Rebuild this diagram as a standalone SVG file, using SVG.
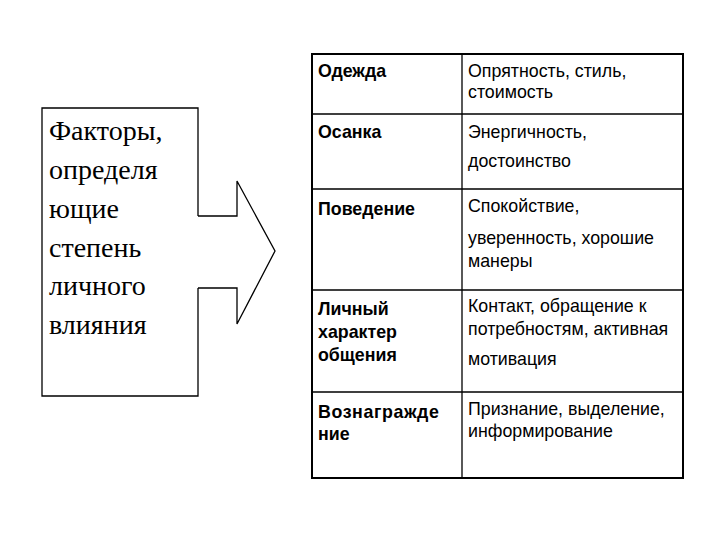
<svg xmlns="http://www.w3.org/2000/svg" width="720" height="540" viewBox="0 0 720 540">
<style>
.ln{fill:none;stroke:#000;stroke-width:1.3}
.tb{fill:none;stroke:#000;stroke-width:2}
.s{font-family:"Liberation Serif","Times New Roman",serif;font-size:28px;fill:#000}
.b{font-family:"Liberation Sans",Arial,sans-serif;font-size:17.8px;font-weight:bold;fill:#000}
.r{font-family:"Liberation Sans",Arial,sans-serif;font-size:17.8px;fill:#000}
</style>
<rect width="720" height="540" fill="#fff"/>
<g id="factors">
<path class="ln" d="M198,216 V108 H42 V396 H198 V288"/>
<text class="s" x="49" y="140">Факторы,</text>
<text class="s" x="49" y="179">определя</text>
<text class="s" x="49" y="218">ющие</text>
<text class="s" x="49" y="257">степень</text>
<text class="s" x="49" y="295">личного</text>
<text class="s" x="49" y="334">влияния</text>
</g>
<g id="connectors">
<path class="ln" d="M198,216 H237 V181 L275,251 L237,324 V288 H198"/>
</g>
<g id="table">
<rect class="tb" x="312" y="54" width="371" height="424"/>
<path class="ln" d="M462,54 V478 M312,114 H683 M312,189 H683 M312,290 H683 M312,392 H683"/>
<text class="b" x="318" y="77">Одежда</text>
<text class="r" x="468" y="77">Опрятность, стиль,</text>
<text class="r" x="468" y="98">стоимость</text>
<text class="b" x="318" y="138">Осанка</text>
<text class="r" x="468" y="138">Энергичность,</text>
<text class="r" x="468" y="167">достоинство</text>
<text class="b" x="318" y="215">Поведение</text>
<text class="r" x="468" y="212">Спокойствие,</text>
<text class="r" x="468" y="244">уверенность, хорошие</text>
<text class="r" x="468" y="267">манеры</text>
<text class="b" x="318" y="315">Личный</text>
<text class="b" x="318" y="338">характер</text>
<text class="b" x="318" y="361">общения</text>
<text class="r" x="468" y="312">Контакт, обращение к</text>
<text class="r" x="468" y="335">потребностям, активная</text>
<text class="r" x="468" y="365">мотивация</text>
<text class="b" x="318" y="418" letter-spacing="0.6">Вознагражде</text>
<text class="b" x="318" y="440">ние</text>
<text class="r" x="468" y="415">Признание, выделение,</text>
<text class="r" x="468" y="437">информирование</text>
</g>
</svg>
